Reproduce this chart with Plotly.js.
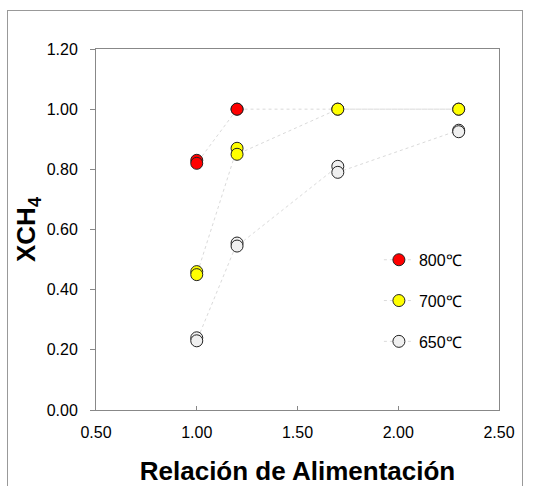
<!DOCTYPE html>
<html><head><meta charset="utf-8">
<script src="https://cdn.plot.ly/plotly-3.0.1.min.js"></script>
<style>
html,body{margin:0;padding:0;background:#fff;}
#frame{position:absolute;left:7px;top:10px;width:514px;height:500px;border:1px solid #999;pointer-events:none;}
#chart{width:547px;height:486px;}
</style></head>
<body>
<div id="chart"></div>
<div id="frame"></div>
<script>
const seriesNames = ["800\u2103", "700\u2103", "650\u2103"];
const x800 = [1.0, 1.0, 1.2, 1.2, 1.7, 2.3];
const y800 = [0.83, 0.82, 1.00, 1.00, 1.00, 1.00];
const x700 = [1.0, 1.0, 1.2, 1.2, 1.7, 2.3];
const y700 = [0.46, 0.45, 0.87, 0.85, 1.00, 1.00];
const x650 = [1.0, 1.0, 1.2, 1.2, 1.7, 1.7, 2.3, 2.3];
const y650 = [0.24, 0.23, 0.555, 0.545, 0.81, 0.79, 0.93, 0.925];
const colors = ["#ff0000", "#ffff00", "#f0f0f0"];

const xs = [x800, x700, x650], ys = [y800, y700, y650];
const traces = seriesNames.map((n, i) => ({
  x: xs[i], y: ys[i], name: n, type: "scatter", mode: "lines+markers",
  legendgroup: "g" + i,
  line: {color: "#dadada", width: 1, dash: "dot"},
  marker: {size: 12, color: colors[i], line: {color: "#222", width: 1}}
}));

const layout = {
  width: 547, height: 486,
  margin: {l: 96, r: 48, t: 49, b: 76},
  paper_bgcolor: "#fff", plot_bgcolor: "#fff",
  font: {family: "Arial, Liberation Sans, sans-serif", color: "#000"},
  showlegend: true,
  legend: {x: 0.702, y: 0.463, xanchor: "left", yanchor: "top", bgcolor: "rgba(0,0,0,0)",
           font: {size: 16}, traceorder: "grouped", tracegroupgap: 17},
  xaxis: {range: [0.5, 2.5], tickvals: [0.5, 1.0, 1.5, 2.0, 2.5], tickformat: ".2f",
          showgrid: false, zeroline: false, showline: true, linecolor: "#888", mirror: true,
          ticks: "inside", ticklen: 4, tickcolor: "#888", tickfont: {size: 16}, ticklabelstandoff: 8,
          title: {text: "<b>Relación de Alimentación</b>", font: {size: 26}, standoff: 22}},
  yaxis: {range: [0, 1.2], tickvals: [0, 0.2, 0.4, 0.6, 0.8, 1.0, 1.2], tickformat: ".2f",
          showgrid: false, zeroline: false, showline: true, linecolor: "#888", mirror: true,
          ticks: "outside", ticklen: 5, tickcolor: "#888", tickfont: {size: 16}, ticklabelstandoff: 9,
          title: {text: "<b>XCH<sub>4</sub></b>", font: {size: 26}, standoff: 3}}
};
Plotly.newPlot("chart", traces, layout, {displayModeBar: false, staticPlot: true});
</script>
</body></html>
